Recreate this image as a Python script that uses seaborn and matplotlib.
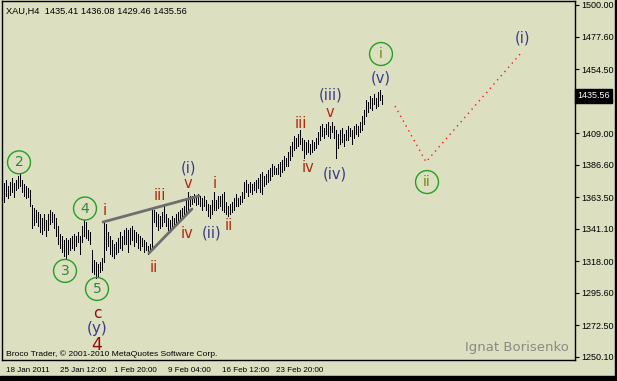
import numpy as np
import pandas as pd
import matplotlib
matplotlib.use("Agg")
import matplotlib.pyplot as plt
import matplotlib.transforms as mtransforms
from matplotlib.patches import Rectangle
import seaborn as sns

# ---------------- data ----------------
header_ohlc = [1435.41, 1436.08, 1429.46, 1435.56]

bar_high = [
    1373.6, 1375.8, 1371.5, 1374.3, 1377.2, 1373.6, 1375.8, 1378.6, 1380.0, 1375.8,
    1372.9, 1371.5, 1370.1, 1368.7, 1358.0, 1355.9, 1354.5, 1353.0, 1351.6, 1348.8,
    1351.6, 1347.4, 1351.6, 1354.5, 1353.0, 1351.6, 1348.8, 1343.1, 1337.4, 1336.0,
    1333.2, 1334.6, 1333.2, 1334.6, 1336.0, 1337.4, 1336.0, 1338.8, 1336.0, 1343.1,
    1347.4, 1345.9, 1340.3, 1338.8, 1326.1, 1319.0, 1317.5, 1316.1, 1317.5, 1320.4,
    1346.6, 1344.5, 1338.8, 1336.0, 1333.2, 1330.3, 1331.7, 1334.6, 1338.8, 1336.0,
    1340.3, 1341.7, 1340.3, 1341.7, 1343.1, 1340.3, 1338.8, 1337.4, 1336.0, 1334.6,
    1333.2, 1331.7, 1328.9, 1330.3, 1355.9, 1354.5, 1353.0, 1351.6, 1350.2, 1353.0,
    1358.0, 1351.6, 1348.8, 1347.4, 1350.2, 1348.8, 1351.6, 1353.0, 1354.5, 1355.9,
    1357.3, 1361.6, 1367.2, 1364.4, 1364.4, 1365.8, 1364.4, 1365.8, 1364.4, 1363.0,
    1364.4, 1361.6, 1358.7, 1358.0, 1361.6, 1367.2, 1361.6, 1364.4, 1364.4, 1365.8,
    1367.2, 1360.1, 1357.3, 1358.7, 1360.1, 1363.0, 1365.8, 1363.0, 1364.4, 1367.2,
    1374.3, 1375.8, 1372.9, 1374.3, 1372.9, 1374.3, 1375.8, 1377.2, 1380.0, 1381.4,
    1378.6, 1380.0, 1382.9, 1384.3, 1387.1, 1385.7, 1384.3, 1387.1, 1388.6, 1390.0,
    1392.8, 1391.4, 1395.6, 1399.9, 1402.7, 1407.0, 1405.6, 1408.4, 1411.3, 1405.6,
    1404.2, 1402.7, 1404.2, 1401.3, 1404.2, 1402.7, 1405.6, 1409.8, 1414.1, 1415.5,
    1412.7, 1415.5, 1416.9, 1414.1, 1416.9, 1414.1, 1411.3, 1408.4, 1411.3, 1412.7,
    1408.4, 1411.3, 1414.1, 1412.7, 1411.3, 1414.1, 1415.5, 1414.1, 1416.9, 1421.2,
    1425.5, 1432.6, 1431.1, 1435.4, 1434.0, 1436.8, 1434.0, 1438.2, 1439.7, 1436.08,
]
bar_low = [
    1360.1, 1364.4, 1363.0, 1365.1, 1367.2, 1363.7, 1368.7, 1370.1, 1371.5, 1367.2,
    1364.4, 1363.0, 1363.7, 1357.3, 1341.7, 1343.8, 1345.9, 1343.1, 1338.8, 1337.4,
    1340.3, 1336.0, 1340.3, 1344.5, 1345.9, 1341.7, 1336.0, 1330.3, 1327.5, 1324.6,
    1321.8, 1320.4, 1323.2, 1326.1, 1327.5, 1326.1, 1328.9, 1331.7, 1323.2, 1331.7,
    1336.0, 1334.6, 1333.2, 1330.3, 1310.4, 1309.0, 1306.2, 1307.6, 1310.4, 1311.9,
    1317.5, 1326.1, 1328.9, 1323.2, 1321.8, 1320.4, 1323.2, 1324.6, 1327.5, 1326.1,
    1330.3, 1330.3, 1324.6, 1330.3, 1333.2, 1328.9, 1331.7, 1327.5, 1326.1, 1328.9,
    1324.6, 1326.1, 1323.2, 1324.6, 1326.1, 1345.9, 1343.1, 1340.3, 1341.7, 1343.1,
    1345.9, 1343.1, 1340.3, 1338.8, 1341.7, 1343.1, 1344.5, 1345.9, 1347.4, 1348.8,
    1350.2, 1353.0, 1354.5, 1357.3, 1358.7, 1360.1, 1358.0, 1358.7, 1357.3, 1354.5,
    1357.3, 1354.5, 1350.2, 1348.8, 1351.6, 1354.5, 1354.5, 1355.9, 1357.3, 1354.5,
    1353.0, 1351.6, 1350.2, 1351.6, 1353.0, 1354.5, 1357.3, 1357.3, 1358.7, 1360.1,
    1363.0, 1367.2, 1364.4, 1367.2, 1365.8, 1368.7, 1367.2, 1370.1, 1367.2, 1365.8,
    1371.5, 1372.9, 1374.3, 1375.8, 1378.6, 1380.0, 1380.0, 1380.0, 1378.6, 1381.4,
    1382.9, 1385.7, 1385.7, 1390.0, 1392.8, 1397.1, 1398.5, 1399.9, 1401.3, 1397.1,
    1391.4, 1394.2, 1395.6, 1394.2, 1395.6, 1397.1, 1398.5, 1401.3, 1404.2, 1407.0,
    1405.6, 1408.4, 1407.0, 1405.6, 1409.8, 1405.6, 1391.4, 1398.5, 1401.3, 1402.7,
    1399.9, 1404.2, 1404.2, 1407.0, 1401.3, 1405.6, 1408.4, 1407.0, 1409.8, 1411.3,
    1415.5, 1421.2, 1424.0, 1426.9, 1425.5, 1429.7, 1426.9, 1428.3, 1432.6, 1429.46,
]

price_ticks = [1500.00, 1477.60, 1454.50, 1432.10, 1409.00, 1386.60,
               1363.50, 1341.10, 1318.00, 1295.60, 1272.50, 1250.10]
date_tick_bars = [0, 27, 54, 81, 108, 135]
date_tick_labels = ["18 Jan 2011", "25 Jan 12:00", "1 Feb 20:00",
                    "9 Feb 04:00", "16 Feb 12:00", "23 Feb 20:00"]

# forecast path (bar index, price)
forecast_bar = [195.5, 211.0, 258.5]
forecast_price = [1428.3, 1388.6, 1465.9]

# wedge lines
wedge_upper_bar = [49.5, 97.5]
wedge_upper_price = [1345.9, 1364.4]
wedge_lower_bar = [72.5, 94.0]
wedge_lower_price = [1323.9, 1355.2]

# wave labels: text, bar, price, colour, size
RED = "#b02a0c"
DRED = "#8e1010"
NAVY = "#3b3b8e"
GREEN = "#2f8a2f"
OLIVE = "#6b8e00"
wave_labels = [
    ("c", 46.5, 1281.3, DRED, 11),
    ("(y)", 46.5, 1270.2, NAVY, 11),
    ("4", 46.5, 1258.6, DRED, 12.5),
    ("i", 50.5, 1353.8, RED, 10.5),
    ("ii", 75.0, 1313.3, RED, 10.5),
    ("iii", 78.0, 1365.1, RED, 10.5),
    ("iv", 91.5, 1338.1, RED, 10.5),
    ("v", 92.0, 1373.6, RED, 10.5),
    ("(i)", 92.5, 1384.6, NAVY, 10.5),
    ("(ii)", 104.0, 1338.1, NAVY, 10.5),
    ("i", 105.5, 1373.6, RED, 10.5),
    ("ii", 112.5, 1343.8, RED, 10.5),
    ("iii", 148.5, 1416.2, RED, 10.5),
    ("iv", 152.0, 1384.3, RED, 10.5),
    ("v", 163.0, 1424.0, RED, 10.5),
    ("(iii)", 163.5, 1436.4, NAVY, 10.5),
    ("(iv)", 165.5, 1380.0, NAVY, 10.5),
    ("(v)", 188.5, 1448.2, NAVY, 10.5),
    ("(i)", 259.5, 1476.6, NAVY, 10.5),
]
circle_labels = [
    ("2", 7.5, 1388.3, GREEN),
    ("3", 30.5, 1311.2, GREEN),
    ("4", 40.5, 1355.5, GREEN),
    ("5", 46.5, 1298.4, GREEN),
    ("i", 188.5, 1465.2, OLIVE),
    ("ii", 211.5, 1374.3, OLIVE),
]

# ---------------- figure ----------------
BG = "#dcdfc0"
sns.set_style("white")
plt.rcParams["font.family"] = ["DejaVu Sans"]
SMALL = ["Liberation Sans", "DejaVu Sans"]

W, H = 617, 381
fig = plt.figure(figsize=(W / 100, H / 100), dpi=100, facecolor=BG)
ax = fig.add_axes([2 / W, 21 / H, 573 / W, 359 / H])
ax.set_facecolor(BG)

bars = pd.DataFrame({"bar": np.arange(len(bar_high)), "high": bar_high, "low": bar_low})
ax.vlines(bars["bar"], bars["low"], bars["high"], color="black", lw=0.5,
          antialiased=False, zorder=3)

fc = pd.DataFrame({"bar": forecast_bar, "price": forecast_price})
sns.lineplot(data=fc, x="bar", y="price", sort=False, ax=ax, color="#ff1a1a",
             lw=1.0, linestyle=(0, (1, 3)), zorder=2)
wu = pd.DataFrame({"bar": wedge_upper_bar, "price": wedge_upper_price})
wl = pd.DataFrame({"bar": wedge_lower_bar, "price": wedge_lower_price})
for d in (wu, wl):
    sns.lineplot(data=d, x="bar", y="price", sort=False, ax=ax, color="#6e6e6e",
                 lw=2.0, zorder=4)

for txt, b, p, col, fs in wave_labels:
    ax.text(b, p, txt, color=col, fontsize=fs, ha="center", va="center", zorder=6)

cx = [c[1] for c in circle_labels]
cy = [c[2] for c in circle_labels]
ax.scatter(cx, cy, s=16.5 ** 2, facecolors="none", edgecolors="#23a023",
           linewidths=1.0, zorder=6)
for txt, b, p, col in circle_labels:
    ax.text(b, p, txt, color=col, fontsize=10, ha="center", va="center", zorder=7)

ax.set_xlim(-1, 285.5)
ax.set_ylim(1247.95, 1502.84)
ax.set_xlabel("")
ax.set_ylabel("")

for s in ax.spines.values():
    s.set_color("black")
    s.set_linewidth(1.0)

ax.yaxis.tick_right()
ax.set_yticks(price_ticks)
ax.set_yticklabels([f"{v:.2f}" for v in price_ticks], family=SMALL)
ax.tick_params(axis="y", direction="out", length=3, width=0.8, pad=1.5,
               labelsize=6.5, colors="black")
ax.set_xticks(date_tick_bars)
ax.set_xticklabels(date_tick_labels, ha="left", family=SMALL)
ax.tick_params(axis="x", direction="out", length=4, width=0.8, pad=1,
               labelsize=5.8, colors="black")
off = mtransforms.ScaledTranslation(2 / 100, 0, fig.dpi_scale_trans)
for lab in ax.get_xticklabels():
    lab.set_transform(lab.get_transform() + off)

# current price box
trans = mtransforms.blended_transform_factory(ax.transAxes, ax.transData)
ax.text(1.004, header_ohlc[3], f"{header_ohlc[3]:.2f}", transform=trans,
        color="white", fontsize=6.5, family=SMALL, ha="left", va="center",
        clip_on=False, zorder=10,
        bbox=dict(boxstyle="square,pad=0.25", fc="black", ec="black"))

# texts
fig.text(6 / W, 1 - 11 / H, "XAU,H4  " + " ".join(f"{v:.2f}" for v in header_ohlc),
         fontsize=6.7, family=SMALL, color="black", ha="left", va="center")
fig.text(6 / W, 1 - 354 / H, "Broco Trader, \u00a9 2001-2010 MetaQuotes Software Corp.",
         fontsize=6.1, family=SMALL, color="black", ha="left", va="center")
fig.text(517 / W, 1 - 348 / H, "Ignat Borisenko", fontsize=9.5, color="#8a8a82",
         ha="center", va="center")

# black frame strips
fig.patches.append(Rectangle((0, 0), 1, 5 / H, transform=fig.transFigure,
                             color="black", zorder=0))
fig.patches.append(Rectangle((615 / W, 0), 2 / W, 1, transform=fig.transFigure,
                             color="black", zorder=0))

fig.savefig("out.png", dpi=100, facecolor=BG)
